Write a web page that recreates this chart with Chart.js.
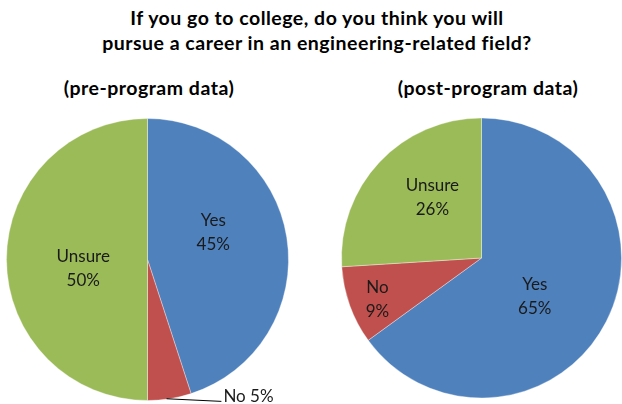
<!DOCTYPE html>
<html>
<head>
<meta charset="utf-8">
<script src="https://cdn.jsdelivr.net/npm/chart.js@4.4.1/dist/chart.umd.min.js"></script>
<style>
  html, body { margin: 0; padding: 0; background: #fff; }
  #wrap { position: relative; width: 622px; height: 404px; overflow: hidden;
          font-family: Lato, "Open Sans", sans-serif; color: #000; }
  #wrap canvas { position: absolute; left: 0; top: 0; }
  .txt { position: absolute; white-space: nowrap; font-weight: bold; text-align: center;
         font-size: 19.5px; letter-spacing: 0.5px; }
  #title { left: 0; width: 634px; top: 5px; line-height: 25px; }
  #subPre { left: 49px; width: 200px; top: 76px; }
  #subPost { left: 388px; width: 200px; top: 76px; }
</style>
</head>
<body>
<div id="wrap">
  <div class="txt" id="title">If you go to college, do you think you will<br>pursue a career in an engineering-related field?</div>
  <div class="txt" id="subPre">(pre-program data)</div>
  <div class="txt" id="subPost">(post-program data)</div>
  <canvas id="pre" width="622" height="404"></canvas>
  <canvas id="post" width="622" height="404"></canvas>
</div>
<script>
// Survey answers, in percent
const answers = ['Yes', 'No', 'Unsure'];
const preProgram = [45, 5, 50];
const postProgram = [65, 9, 26];

const sliceColors = ['#4F81BD', '#C0504D', '#9BBB59'];

// Draws "Answer / NN%" labels on each slice. Placement is given per slice as
// a turn (degrees) away from the slice bisector and a distance in radii.
const sliceLabels = {
  id: 'sliceLabels',
  afterDatasetsDraw(chart, args, opts) {
    const ctx = chart.ctx;
    const meta = chart.getDatasetMeta(0);
    const values = chart.data.datasets[0].data;
    const names = chart.data.labels;
    ctx.save();
    ctx.font = '17px Lato, "Open Sans", sans-serif';
    ctx.fillStyle = '#1a1a1a';
    ctx.textBaseline = 'middle';
    meta.data.forEach((arc, i) => {
      const p = arc.getProps(['x', 'y', 'startAngle', 'endAngle', 'outerRadius'], true);
      const place = opts.place[i];
      const mid = (p.startAngle + p.endAngle) / 2 + place.turn * Math.PI / 180;
      const lx = p.x + Math.cos(mid) * p.outerRadius * place.dist;
      const ly = p.y + Math.sin(mid) * p.outerRadius * place.dist;
      const pct = values[i] + '%';
      if (place.outside) {
        // leader from the rim at the bisector to the text
        const bis = (p.startAngle + p.endAngle) / 2;
        const ex = p.x + Math.cos(bis) * p.outerRadius;
        const ey = p.y + Math.sin(bis) * p.outerRadius;
        ctx.strokeStyle = '#000';
        ctx.lineWidth = 1;
        ctx.beginPath();
        ctx.moveTo(ex - 3, ey);
        ctx.lineTo(lx - 2, ly + 5);
        ctx.stroke();
        ctx.textAlign = 'left';
        ctx.fillText(names[i] + ' ' + pct, lx, ly);
      } else {
        ctx.textAlign = 'center';
        ctx.fillText(names[i], lx, ly - 12);
        ctx.fillText(pct, lx, ly + 12);
      }
    });
    ctx.restore();
  }
};

function makePie(id, values, padding, place) {
  return new Chart(document.getElementById(id), {
    type: 'pie',
    data: {
      labels: answers,
      datasets: [{
        data: values,
        backgroundColor: sliceColors,
        borderColor: 'rgba(255,255,255,0.35)',
        borderWidth: 1
      }]
    },
    options: {
      responsive: false,
      animation: false,
      layout: { padding },
      plugins: {
        legend: { display: false },
        tooltip: { enabled: false },
        sliceLabels: { place }
      }
    },
    plugins: [sliceLabels]
  });
}

makePie('pre', preProgram,
  { left: 6, top: 118, right: 333, bottom: 3 },
  [ { turn: -13.6, dist: 0.505 },
    { turn: -20, dist: 1.11, outside: true },
    { turn: -7.8, dist: 0.46 } ]);

makePie('post', postProgram,
  { left: 341, top: 117.5, right: 0, bottom: 5.5 },
  [ { turn: 9, dist: 0.47 },
    { turn: -1.9, dist: 0.80 },
    { turn: 7.5, dist: 0.554 } ]);
</script>
</body>
</html>
